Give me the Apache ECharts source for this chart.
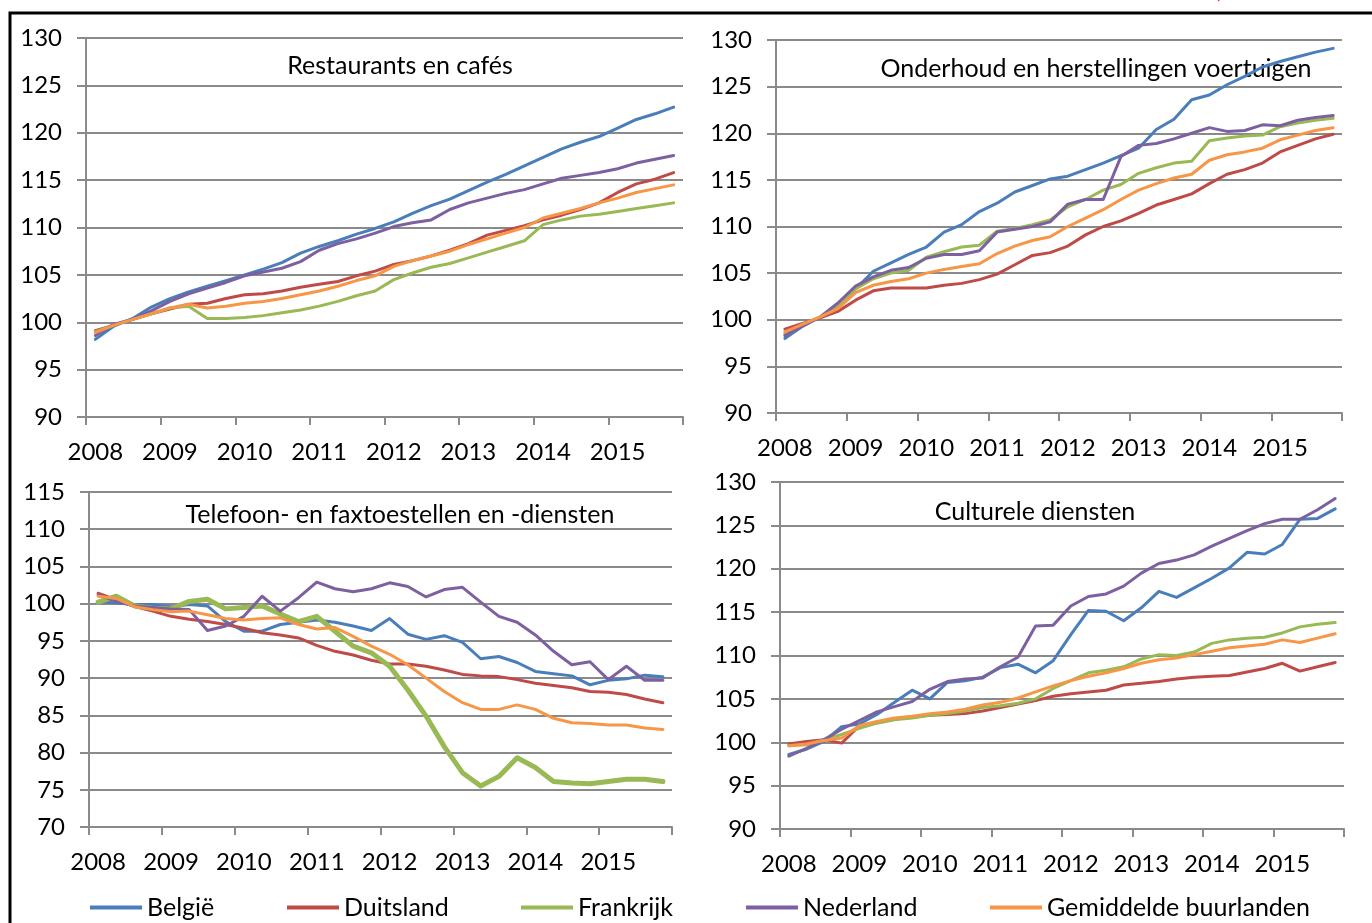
<!DOCTYPE html>
<html><head><meta charset="utf-8">
<script src="https://cdn.jsdelivr.net/npm/echarts@6/dist/echarts.min.js"></script>
<style>html,body{margin:0;padding:0;background:#fff}#c{width:1372px;height:923px}</style>
</head><body><div id="c"></div>
<script>
// ---- data ----
const categories = ['2008K1','2008K2','2008K3','2008K4','2009K1','2009K2','2009K3','2009K4','2010K1','2010K2','2010K3','2010K4','2011K1','2011K2','2011K3','2011K4','2012K1','2012K2','2012K3','2012K4','2013K1','2013K2','2013K3','2013K4','2014K1','2014K2','2014K3','2014K4','2015K1','2015K2','2015K3','2015K4'];
const seriesNames = ['België','Duitsland','Frankrijk','Nederland','Gemiddelde buurlanden'];
const panelTitles = ['Restaurants en cafés','Onderhoud en herstellingen voertuigen','Telefoon- en faxtoestellen en -diensten','Culturele diensten'];
const yMin = [90, 90, 70, 90];
const yMax = [130, 130, 115, 130];

// Restaurants en cafés
const R_BE  = [98.2,99.6,100.4,101.6,102.5,103.2,103.8,104.4,105.0,105.6,106.3,107.3,108.0,108.6,109.3,109.9,110.6,111.5,112.3,113.0,113.9,114.8,115.6,116.5,117.4,118.3,119.0,119.6,120.5,121.4,122.0,122.7];
const R_DE  = [99.1,99.7,100.3,100.9,101.4,101.9,102.0,102.5,102.9,103.0,103.3,103.7,104.0,104.3,104.9,105.4,106.1,106.5,107.0,107.6,108.3,109.2,109.7,110.2,110.8,111.3,111.9,112.6,113.7,114.6,115.1,115.8];
const R_FR  = [99.0,99.7,100.3,100.9,101.5,101.7,100.4,100.4,100.5,100.7,101.0,101.3,101.7,102.2,102.8,103.3,104.5,105.2,105.8,106.2,106.8,107.4,108.0,108.6,110.3,110.8,111.2,111.4,111.7,112.0,112.3,112.6];
const R_NL  = [98.6,99.8,100.3,101.2,102.2,103.0,103.6,104.2,104.9,105.3,105.7,106.4,107.6,108.3,108.8,109.4,110.1,110.5,110.8,111.9,112.6,113.1,113.6,114.0,114.6,115.2,115.5,115.8,116.2,116.8,117.2,117.6];
const R_GEM = [98.9,99.7,100.3,100.9,101.5,101.9,101.5,101.7,102.0,102.2,102.5,102.9,103.3,103.8,104.4,104.9,105.9,106.5,107.0,107.5,108.2,108.8,109.4,110.0,111.0,111.5,112.0,112.6,113.1,113.7,114.1,114.5];

// Onderhoud en herstellingen voertuigen
const O_BE  = [98.0,99.3,100.3,101.5,103.3,105.2,106.1,107.0,107.8,109.4,110.2,111.6,112.5,113.7,114.4,115.1,115.4,116.1,116.8,117.6,118.4,120.4,121.5,123.6,124.1,125.2,126.1,127.1,127.7,128.2,128.7,129.1];
const O_DE  = [99.0,99.6,100.2,100.9,102.1,103.1,103.4,103.4,103.4,103.7,103.9,104.3,104.9,105.9,106.9,107.2,107.9,109.1,110.0,110.6,111.4,112.3,112.9,113.5,114.6,115.6,116.1,116.8,118.0,118.7,119.4,119.9];
const O_FR  = [98.5,99.5,100.3,101.5,103.3,104.4,105.0,105.3,106.7,107.3,107.8,108.0,109.5,109.8,110.2,110.7,112.1,112.9,113.9,114.5,115.7,116.3,116.8,117.0,119.2,119.5,119.7,119.8,120.7,121.1,121.4,121.6];
const O_NL  = [98.3,99.3,100.3,101.8,103.6,104.6,105.3,105.6,106.6,107.0,107.0,107.4,109.4,109.7,110.0,110.5,112.4,112.9,112.9,117.5,118.7,118.9,119.4,120.0,120.6,120.2,120.3,120.9,120.8,121.4,121.7,121.9];
const O_GEM = [98.7,99.5,100.3,101.2,102.9,103.7,104.1,104.4,105.0,105.4,105.7,106.0,107.1,107.9,108.5,108.9,110.0,110.9,111.8,112.9,113.9,114.6,115.2,115.6,117.1,117.7,118.0,118.4,119.3,119.8,120.3,120.6];

// Telefoon- en faxtoestellen en -diensten
const T_BE  = [100.3,100.1,99.9,99.9,99.6,99.9,99.7,97.6,96.3,96.3,97.2,97.5,97.8,97.5,97.0,96.4,98.0,95.9,95.2,95.7,94.8,92.6,92.9,92.1,90.9,90.6,90.3,89.1,89.7,89.9,90.4,90.2];
const T_DE  = [101.4,100.5,99.6,99.0,98.3,97.9,97.6,97.2,96.7,96.1,95.8,95.4,94.4,93.6,93.1,92.4,91.9,91.9,91.6,91.1,90.5,90.3,90.2,89.8,89.3,89.0,88.7,88.2,88.1,87.8,87.2,86.7];
const T_FR  = [100.2,101.0,99.7,99.4,99.3,100.3,100.6,99.3,99.5,99.7,98.6,97.6,98.3,96.3,94.3,93.4,91.6,88.4,84.9,80.8,77.3,75.5,76.8,79.3,78.0,76.1,75.9,75.8,76.1,76.4,76.4,76.1];
const T_NL  = [101.2,100.3,99.7,99.5,99.3,99.2,96.4,97.0,98.3,101.0,99.0,100.8,102.9,102.0,101.6,102.0,102.8,102.3,100.9,101.9,102.2,100.2,98.3,97.5,95.8,93.6,91.8,92.2,89.8,91.6,89.7,89.7];
const T_GEM = [101.0,100.7,99.6,99.2,98.9,99.0,98.5,98.0,97.8,98.0,98.1,97.2,96.6,96.8,95.6,94.3,93.2,91.8,90.0,88.2,86.7,85.8,85.8,86.4,85.8,84.6,84.0,83.9,83.7,83.7,83.3,83.1];

// Culturele diensten
const C_BE  = [98.6,99.2,100.1,101.8,102.1,103.2,104.6,106.0,105.0,106.9,107.1,107.5,108.6,109.0,108.0,109.4,112.4,115.2,115.1,114.0,115.5,117.4,116.7,117.8,118.9,120.1,121.9,121.7,122.8,125.7,125.8,126.9];
const C_DE  = [99.8,100.1,100.3,99.9,101.9,102.3,102.7,102.9,103.1,103.2,103.3,103.6,104.0,104.4,104.8,105.3,105.6,105.8,106.0,106.6,106.8,107.0,107.3,107.5,107.6,107.7,108.1,108.5,109.1,108.2,108.7,109.2];
const C_FR  = [99.6,99.7,100.3,100.9,101.6,102.2,102.6,102.8,103.1,103.3,103.6,104.0,104.2,104.5,105.0,106.2,107.1,108.0,108.3,108.7,109.6,110.1,110.0,110.4,111.4,111.8,112.0,112.1,112.6,113.3,113.6,113.8];
const C_NL  = [98.4,99.3,100.3,101.5,102.5,103.5,104.1,104.7,106.1,107.0,107.3,107.4,108.7,109.8,113.4,113.5,115.7,116.8,117.1,118.0,119.5,120.6,121.0,121.6,122.6,123.5,124.4,125.2,125.7,125.7,126.8,128.1];
const C_GEM = [99.6,99.8,100.2,100.5,101.9,102.4,102.8,103.0,103.3,103.5,103.8,104.3,104.6,105.1,105.8,106.5,107.1,107.6,108.0,108.5,109.1,109.5,109.7,110.1,110.5,110.9,111.1,111.3,111.8,111.5,112.0,112.5];

const panelData = [
  [R_BE, R_DE, R_FR, R_NL, R_GEM],
  [O_BE, O_DE, O_FR, O_NL, O_GEM],
  [T_BE, T_DE, T_FR, T_NL, T_GEM],
  [C_BE, C_DE, C_FR, C_NL, C_GEM]
];

// ---- layout / style ----
const colors = ['#4a7ebb', '#be4b48', '#98b954', '#7d60a0', '#f79646'];
const FONT = 'Lato';
const grids = [
  {left: 86, top: 38, width: 597, height: 379},
  {left: 776, top: 40, width: 566, height: 373},
  {left: 89, top: 492, width: 583, height: 335},
  {left: 780, top: 482, width: 564, height: 347}
];
const titlePos = [[400, 66], [1096, 69], [400, 515], [1035, 512]];
const legendLeft = [90, 287, 521, 746, 990];
const GRAY = '#8a8a8a';

const chart = echarts.init(document.getElementById('c'), null, {renderer: 'canvas'});

const xAxis = grids.map((g, p) => ({
  type: 'category', gridIndex: p, data: categories, boundaryGap: true,
  axisLine: {show: true, lineStyle: {color: GRAY, width: 2}},
  axisTick: {show: true, interval: 3, length: 8, lineStyle: {color: GRAY, width: 2}},
  axisLabel: {interval: 3, margin: 23, color: '#000', fontFamily: FONT, fontSize: 24,
    formatter: v => v.slice(0, 4)},
  splitLine: {show: false}
}));
const yAxis = grids.map((g, p) => ({
  type: 'value', gridIndex: p, min: yMin[p], max: yMax[p], interval: 5,
  axisLine: {show: true, lineStyle: {color: GRAY, width: 2}},
  axisTick: {show: true, length: 9, lineStyle: {color: GRAY, width: 2}},
  axisLabel: {margin: 24, color: '#000', fontFamily: FONT, fontSize: 24},
  splitLine: {show: true, lineStyle: {color: GRAY, width: 2}}
}));

const series = [];
panelData.forEach((arrs, p) => {
  arrs.forEach((d, k) => {
    series.push({
      type: 'line', name: seriesNames[k], xAxisIndex: p, yAxisIndex: p, data: d,
      symbol: 'none', smooth: false, animation: false,
      color: colors[k],
      lineStyle: {color: colors[k], width: (p === 2 && k === 2) ? 5 : 3, cap: 'round', join: 'round'},
      itemStyle: {color: colors[k]}
    });
  });
});

const graphic = [
  {type: 'rect', shape: {x: 10, y: 13, width: 1400, height: 1000}, style: {fill: 'none', stroke: '#000', lineWidth: 3}, silent: true},
  {type: 'text', x: 1214, y: -22, style: {text: '(', fontSize: 24, fontFamily: FONT, fill: '#e0501e', textVerticalAlign: 'top'}, silent: true}
];
panelTitles.forEach((t, p) => {
  graphic.push({type: 'text', x: titlePos[p][0], y: titlePos[p][1],
    style: {text: t, fontFamily: FONT, fontSize: 25, fill: '#000', textAlign: 'center', textVerticalAlign: 'middle'}, silent: true});
});

const legend = seriesNames.map((n, k) => ({
  data: [n], left: legendLeft[k], top: 895, padding: 0, icon: 'rect',
  itemWidth: 52, itemHeight: 4, selectedMode: false,
  textStyle: {fontFamily: FONT, fontSize: 25, color: '#000'}
}));

chart.setOption({
  animation: false,
  backgroundColor: '#fff',
  grid: grids,
  xAxis, yAxis, series, legend, graphic
});
</script></body></html>
